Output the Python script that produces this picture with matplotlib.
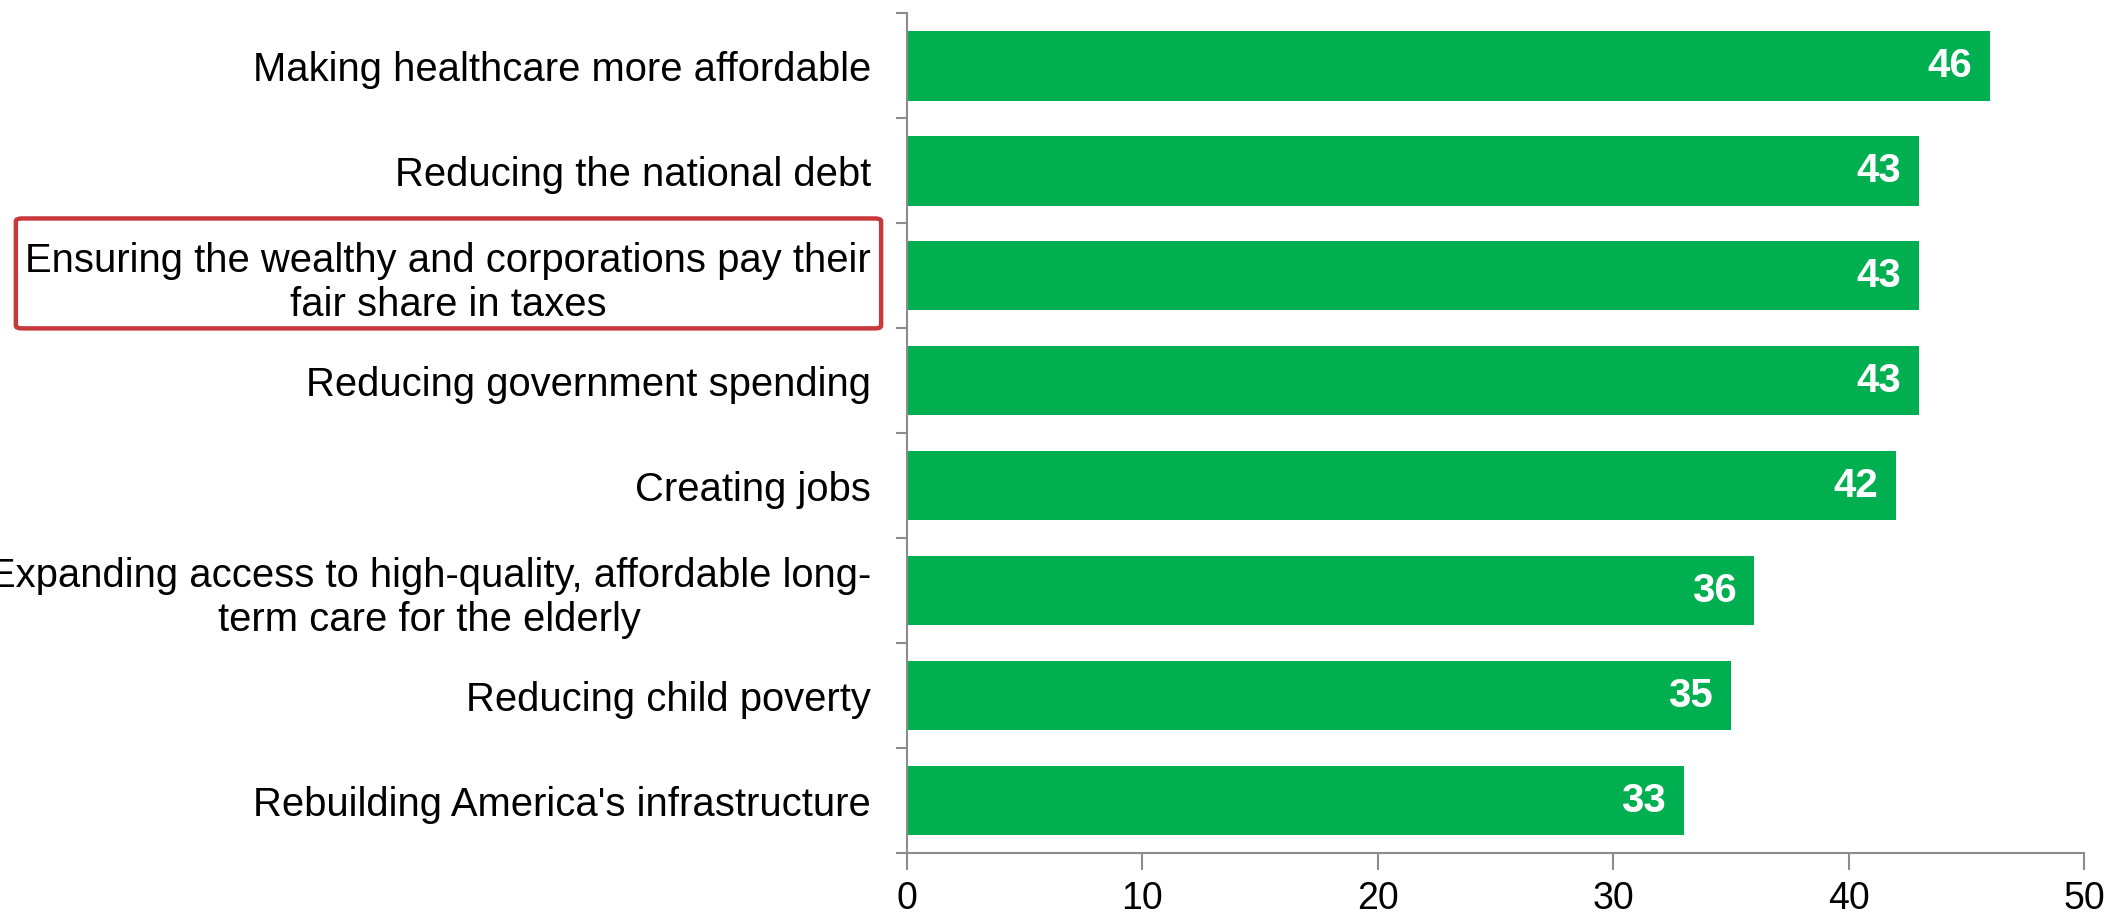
import matplotlib
matplotlib.use("Agg")
import matplotlib.pyplot as plt
from matplotlib.patches import FancyBboxPatch
import numpy as np

# ── data ─────────────────────────────────────────
categories = [
    "Making healthcare more affordable",
    "Reducing the national debt",
    "Ensuring the wealthy and corporations pay their\nfair share in taxes",
    "Reducing government spending",
    "Creating jobs",
    "Expanding access to high-quality, affordable long-\nterm care for the elderly",
    "Reducing child poverty",
    "Rebuilding America's infrastructure",
]
values = [46, 43, 43, 43, 42, 36, 35, 33]
x_ticks = [0, 10, 20, 30, 40, 50]

BAR_COLOR = "#00B050"
AXIS_COLOR = "#8C8C8C"
BOX_COLOR = "#C8393B"

plt.rcParams["font.family"] = ["Liberation Sans", "DejaVu Sans"]

fig = plt.figure(figsize=(21.13, 9.16), dpi=100)
ax = fig.add_axes([0.4292, 0.0688, 0.5571, 0.9165])

y = np.arange(len(categories))
ax.barh(y, values, height=0.66, color=BAR_COLOR)

for yi, v in zip(y, values):
    ax.text(v - 0.75, yi, f"{v}", color="white", fontsize=29, fontweight="bold",
            ha="right", va="center")

ax.set_ylim(len(categories) - 0.5, -0.5)
ax.set_xlim(0, 50)

ax.set_yticks(y)
ax.set_yticklabels(categories, fontsize=28.8, multialignment="center")
ax.set_yticks(np.arange(len(categories) + 1) - 0.5, minor=True)
ax.tick_params(axis="y", which="major", length=0, pad=26)
ax.tick_params(axis="y", which="minor", length=8, width=1.5, color=AXIS_COLOR, direction="out")

ax.set_xticks(x_ticks)
ax.tick_params(axis="x", which="major", length=12, width=1.5, color=AXIS_COLOR,
               labelsize=27, pad=8)

for side in ["top", "right"]:
    ax.spines[side].set_visible(False)
for side in ["left", "bottom"]:
    ax.spines[side].set_color(AXIS_COLOR)
    ax.spines[side].set_linewidth(1.5)

# red highlight box around third label
box = FancyBboxPatch((0.0075, 0.6415), 0.4095, 0.1200,
                     boxstyle="round,pad=0,rounding_size=0.003",
                     transform=fig.transFigure, fill=False,
                     edgecolor=BOX_COLOR, linewidth=3.2)
fig.patches.append(box)

fig.savefig("out.png", dpi=100)
